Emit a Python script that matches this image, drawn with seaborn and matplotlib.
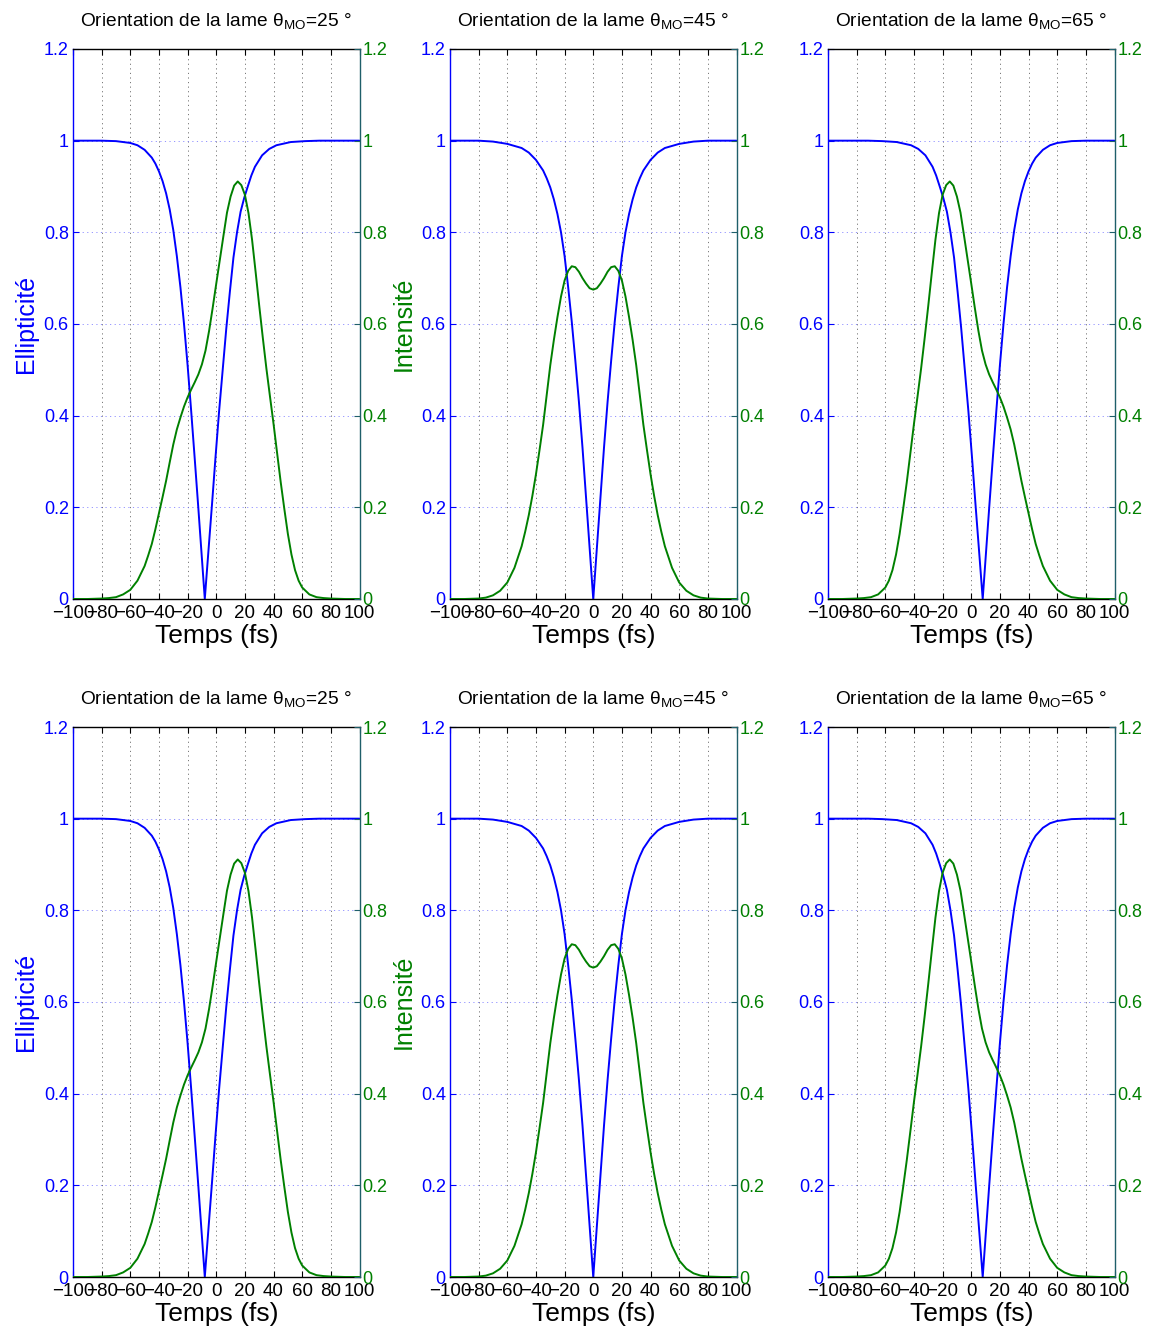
import matplotlib
matplotlib.use("Agg")
import matplotlib.pyplot as plt
import seaborn as sns

sns.set_style("white")
plt.rcParams['font.family'] = ['Liberation Sans', 'DejaVu Sans']
plt.rcParams['mathtext.fontset'] = 'custom'
plt.rcParams['mathtext.rm'] = 'Liberation Sans'
plt.rcParams['text.color'] = 'black'
plt.rcParams['axes.labelcolor'] = 'black'
plt.rcParams['xtick.color'] = 'black'

# ---------------- data ----------------
ANGLES = [25, 45, 65]

# theta_MO = 25 deg
t_ell_25 = [-100, -80, -70, -60, -55, -50, -45, -42.5, -40, -37.5, -35, -32.5, -30, -27.5, -25,
            -22.5, -20, -17.5, -15, -12.5, -10, -8, -5.5, -3, -0.5, 2, 4.5, 7, 9.5, 12, 14.5,
            17, 19.5, 22, 24.5, 27, 32, 37, 42, 52, 62, 72, 100]
ell_25 = [1.0, 1.0, 0.999, 0.995, 0.990, 0.980, 0.963, 0.950, 0.933, 0.912, 0.885, 0.850, 0.805, 0.748, 0.680,
          0.600, 0.510, 0.410, 0.305, 0.198, 0.088, 0.0, 0.103, 0.205, 0.310, 0.410, 0.500, 0.590, 0.670, 0.745, 0.800,
          0.845, 0.875, 0.900, 0.924, 0.943, 0.968, 0.982, 0.990, 0.997, 0.999, 1.0, 1.0]
t_int_25 = [-100, -90, -80, -75, -70, -65, -60, -55, -50, -47.5, -45, -42.5, -40, -37.5, -35, -32.5,
            -30, -27.5, -25, -22.5, -20, -17.5, -15, -12.5, -10, -7.5, -5, -2.5, 0, 2.5, 5, 7.5,
            10, 12.5, 15, 17.5, 20, 22.5, 25, 27.5, 30, 32.5, 35, 37.5, 40, 42.5, 45, 47.5,
            50, 52.5, 55, 57.5, 60, 65, 70, 75, 80, 90, 100]
int_25 = [0.0, 0.0, 0.001, 0.002, 0.004, 0.010, 0.020, 0.040, 0.072, 0.095, 0.120, 0.152, 0.187, 0.222, 0.258, 0.298,
          0.337, 0.370, 0.396, 0.420, 0.440, 0.457, 0.473, 0.490, 0.512, 0.542, 0.585, 0.635, 0.688, 0.740, 0.792, 0.843,
          0.878, 0.902, 0.911, 0.903, 0.882, 0.842, 0.784, 0.713, 0.640, 0.570, 0.503, 0.442, 0.382, 0.318, 0.255, 0.197,
          0.142, 0.097, 0.063, 0.040, 0.025, 0.010, 0.004, 0.002, 0.001, 0.0, 0.0]

# theta_MO = 45 deg
t_ell_45 = [-100, -80, -70, -60, -50, -45, -40, -35, -32.5, -30, -27.5, -25, -22.5, -20, -17.5, -15, -12.5,
            -10, -7.5, -5, -2.5, 0, 2.5, 5, 7.5, 10, 12.5, 15, 17.5, 20, 22.5, 25, 27.5, 30, 32.5, 35, 40,
            45, 50, 60, 70, 80, 100]
ell_45 = [1.0, 1.0, 0.998, 0.993, 0.984, 0.974, 0.958, 0.935, 0.918, 0.898, 0.872, 0.840, 0.800, 0.748, 0.680, 0.605, 0.520,
          0.430, 0.330, 0.220, 0.110, 0.0, 0.110, 0.220, 0.330, 0.430, 0.520, 0.605, 0.680, 0.748, 0.800, 0.840, 0.872, 0.898, 0.918, 0.935, 0.958,
          0.974, 0.984, 0.993, 0.998, 1.0, 1.0]
t_int_45 = [-100, -90, -80, -75, -70, -65, -60, -55, -50, -47.5, -45, -42.5, -40, -37.5, -35, -32.5, -30,
            -27.5, -25, -22.5, -20, -17.5, -15, -12.5, -10, -7.5, -5, -2.5, 0, 2.5, 5, 7.5, 10, 12.5, 15,
            17.5, 20, 22.5, 25, 27.5, 30, 32.5, 35, 37.5, 40, 42.5, 45, 47.5, 50, 55, 60, 65, 70, 75, 80, 90, 100]
int_45 = [0.0, 0.0, 0.001, 0.003, 0.008, 0.018, 0.036, 0.068, 0.115, 0.147, 0.183, 0.225, 0.272, 0.325, 0.380, 0.445, 0.510,
          0.565, 0.615, 0.660, 0.695, 0.716, 0.726, 0.724, 0.714, 0.700, 0.688, 0.678, 0.675, 0.678, 0.688, 0.700, 0.714, 0.724, 0.726,
          0.716, 0.695, 0.660, 0.615, 0.565, 0.510, 0.445, 0.380, 0.325, 0.272, 0.225, 0.183, 0.147, 0.115, 0.068, 0.036, 0.018, 0.008, 0.003, 0.001, 0.0, 0.0]

# theta_MO = 65 deg
t_ell_65 = [-100, -72, -62, -52, -42, -37, -32, -27, -24.5, -22, -19.5, -17, -14.5, -12, -9.5, -7, -4.5,
            -2, 0.5, 3, 5.5, 8, 10, 12.5, 15, 17.5, 20, 22.5, 25, 27.5, 30, 32.5, 35, 37.5, 40, 42.5, 45,
            50, 55, 60, 70, 80, 100]
ell_65 = [1.0, 1.0, 0.999, 0.997, 0.990, 0.982, 0.968, 0.943, 0.924, 0.900, 0.875, 0.845, 0.800, 0.745, 0.670, 0.590, 0.500,
          0.410, 0.310, 0.205, 0.103, 0.0, 0.088, 0.198, 0.305, 0.410, 0.510, 0.600, 0.680, 0.748, 0.805, 0.850, 0.885, 0.912, 0.933, 0.950, 0.963,
          0.980, 0.990, 0.995, 0.999, 1.0, 1.0]
t_int_65 = [-100, -90, -80, -75, -70, -65, -60, -57.5, -55, -52.5, -50, -47.5, -45, -42.5, -40, -37.5,
            -35, -32.5, -30, -27.5, -25, -22.5, -20, -17.5, -15, -12.5, -10, -7.5, -5, -2.5, 0, 2.5,
            5, 7.5, 10, 12.5, 15, 17.5, 20, 22.5, 25, 27.5, 30, 32.5, 35, 37.5, 40, 42.5, 45, 47.5,
            50, 55, 60, 65, 70, 75, 80, 90, 100]
int_65 = [0.0, 0.0, 0.001, 0.002, 0.004, 0.010, 0.025, 0.040, 0.063, 0.097, 0.142, 0.197, 0.255, 0.318, 0.382, 0.442,
          0.503, 0.570, 0.640, 0.713, 0.784, 0.842, 0.882, 0.903, 0.911, 0.902, 0.878, 0.843, 0.792, 0.740, 0.688, 0.635,
          0.585, 0.542, 0.512, 0.490, 0.473, 0.457, 0.440, 0.420, 0.396, 0.370, 0.337, 0.298, 0.258, 0.222, 0.187, 0.152, 0.120, 0.095,
          0.072, 0.040, 0.020, 0.010, 0.004, 0.002, 0.001, 0.0, 0.0]

ELL = {25: (t_ell_25, ell_25), 45: (t_ell_45, ell_45), 65: (t_ell_65, ell_65)}
INT = {25: (t_int_25, int_25), 45: (t_int_45, int_45), 65: (t_int_65, int_65)}

XTICKS = [-100, -80, -60, -40, -20, 0, 20, 40, 60, 80, 100]
XTICK_LABELS = ['\u2212100', '\u221280', '\u221260', '\u221240', '\u221220', '0', '20', '40', '60', '80', '100']
YTICKS = [0, 0.2, 0.4, 0.6, 0.8, 1.0, 1.2]
YTICK_LABELS = ['0', '0.2', '0.4', '0.6', '0.8', '1', '1.2']

BLUE = '#0000ff'
GREEN = '#008000'
TEAL = '#1f5f6a'

# ---------------- figure ----------------
fig = plt.figure(figsize=(11.49, 13.29), dpi=100)
W, H = 1149.0, 1329.0
col_left = [73, 450, 828]
row_top = [49, 727]
aw, ah = 286.5, 550

for r in range(2):
    for c, ang in enumerate(ANGLES):
        ax = fig.add_axes([col_left[c] / W, 1 - (row_top[r] + ah) / H, aw / W, ah / H])
        ax2 = ax.twinx()

        te, ve = ELL[ang]
        ti, vi = INT[ang]
        sns.lineplot(x=te, y=ve, ax=ax, color=BLUE, linewidth=1.4, legend=False)
        sns.lineplot(x=ti, y=vi, ax=ax2, color=GREEN, linewidth=1.4, legend=False)

        for a in (ax, ax2):
            a.set_xlim(-100, 100)
            a.set_ylim(0, 1.2)
            a.set_yticks(YTICKS)
            a.set_yticklabels(YTICK_LABELS)
        ax.set_xticks(XTICKS)
        ax.set_xticklabels(XTICK_LABELS)

        ax.set_axisbelow(True)
        ax.xaxis.grid(True, color='#555555', linestyle=(0, (1.2, 3.5)), linewidth=0.7, alpha=0.8)
        ax.yaxis.grid(True, color='#7777ff', linestyle=(0, (1.2, 3.5)), linewidth=0.7, alpha=0.8)
        ax2.grid(False)

        ax.tick_params(axis='x', colors='k', labelcolor='k', top=True, bottom=True,
                       direction='in', length=4, width=0.8, labelsize=13.5, pad=4)
        ax.tick_params(axis='y', colors=BLUE, labelcolor=BLUE, left=True, right=False,
                       direction='in', length=4, width=0.8, labelsize=13, pad=3)
        ax2.tick_params(axis='y', colors=TEAL, labelcolor=GREEN, right=True, left=False,
                        direction='in', length=4, width=0.8, labelsize=13, pad=2)
        ax2.tick_params(axis='x', top=False, bottom=False, labeltop=False, labelbottom=False)

        for s in ('top', 'bottom'):
            ax.spines[s].set_color('k')
            ax.spines[s].set_linewidth(1.0)
        ax.spines['left'].set_color(BLUE)
        ax.spines['left'].set_linewidth(1.0)
        ax.spines['right'].set_visible(False)
        for s in ('top', 'bottom', 'left'):
            ax2.spines[s].set_visible(False)
        ax2.spines['right'].set_color(TEAL)
        ax2.spines['right'].set_linewidth(1.0)
        ax2.spines['right'].set_visible(True)

        ax.set_xlabel('Temps (fs)', fontsize=19, labelpad=1.5, color='k')
        ax2.set_ylabel('')
        ax.set_ylabel('')
        ax.set_title('Orientation de la lame \u03b8$_{\\mathregular{MO}}$=%d \u00b0' % ang,
                     fontsize=13.8, pad=16, color='k')
        if c == 0:
            ax.set_ylabel('Ellipticit\u00e9', fontsize=18, color=BLUE, labelpad=4)
            ax2.set_ylabel('Intensit\u00e9', fontsize=18, color=GREEN, rotation=90, labelpad=3)

fig.savefig('out.png', dpi=100)
